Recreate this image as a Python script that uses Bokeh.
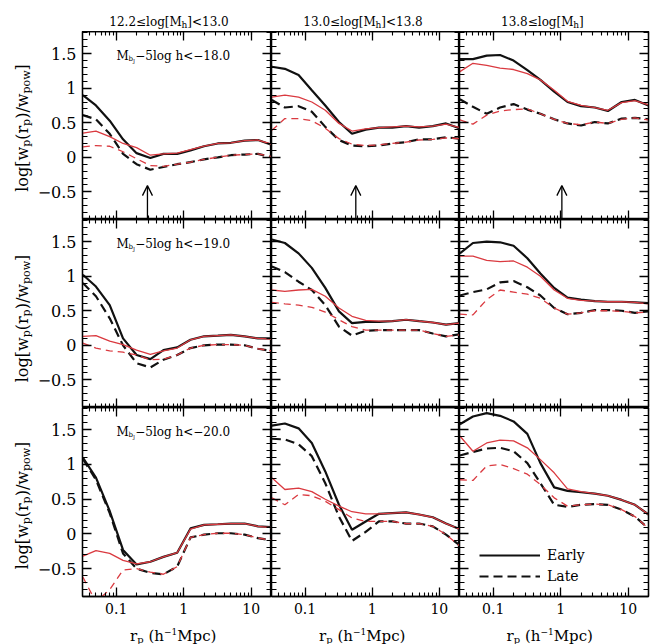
from bokeh.plotting import figure
from bokeh.layouts import column, row
from bokeh.models import (Range1d, LogAxis, LinearAxis, LogTicker, SingleIntervalTicker,
                          CustomJSTickFormatter, Label, Arrow, OpenHead, Legend, LegendItem)
from bokeh.embed import file_html
from bokeh.resources import INLINE

# projected separation bins, h^-1 Mpc
rp = [0.032, 0.05, 0.08, 0.126, 0.2, 0.32, 0.5, 0.8, 1.26, 2.0, 3.2, 5.0, 8.0, 12.6, 20.0]

# halo-mass bins (columns) and luminosity thresholds (rows)
mass_lo = ["12.2", "13.0", "13.8"]
mass_hi = ["13.0", "13.8", None]
mag_limits = ["\u221218.0", "\u221219.0", "\u221220.0"]

# scale marked by the arrows in the top row
arrow_rp = [0.29, 0.57, 1.04]
arrow_tip = -0.41

# ---- M_bJ - 5log h < -18.0 ----
m18_lo_early_black = [0.90, 0.75, 0.53, 0.26, 0.06, -0.01, 0.05, 0.05, 0.10, 0.16, 0.20, 0.21, 0.24, 0.25, 0.18]
m18_lo_early_red = [0.35, 0.38, 0.30, 0.20, 0.14, 0.03, 0.05, 0.06, 0.11, 0.16, 0.20, 0.21, 0.24, 0.25, 0.19]
m18_lo_late_black = [0.61, 0.55, 0.34, 0.05, -0.10, -0.18, -0.14, -0.10, -0.07, -0.03, 0.00, 0.03, 0.04, 0.05, 0.00]
m18_lo_late_red = [0.15, 0.17, 0.16, 0.08, -0.02, -0.12, -0.13, -0.10, -0.07, -0.03, 0.00, 0.03, 0.04, 0.05, 0.01]

m18_mid_early_black = [1.31, 1.28, 1.19, 0.97, 0.75, 0.51, 0.34, 0.40, 0.43, 0.43, 0.45, 0.43, 0.45, 0.49, 0.42]
m18_mid_early_red = [0.87, 0.90, 0.87, 0.80, 0.68, 0.49, 0.38, 0.41, 0.43, 0.44, 0.45, 0.44, 0.45, 0.48, 0.43]
m18_mid_late_black = [0.83, 0.72, 0.74, 0.66, 0.44, 0.25, 0.17, 0.16, 0.17, 0.20, 0.22, 0.26, 0.26, 0.29, 0.27]
m18_mid_late_red = [0.39, 0.56, 0.56, 0.53, 0.42, 0.27, 0.19, 0.17, 0.18, 0.20, 0.22, 0.25, 0.26, 0.28, 0.27]

m18_hi_early_black = [1.42, 1.42, 1.47, 1.48, 1.40, 1.26, 1.12, 0.95, 0.80, 0.74, 0.72, 0.67, 0.80, 0.83, 0.75]
m18_hi_early_red = [1.24, 1.36, 1.33, 1.29, 1.27, 1.21, 1.12, 0.97, 0.81, 0.75, 0.72, 0.68, 0.79, 0.82, 0.76]
m18_hi_late_black = [0.84, 0.73, 0.63, 0.72, 0.77, 0.69, 0.63, 0.55, 0.49, 0.46, 0.51, 0.49, 0.56, 0.57, 0.55]
m18_hi_late_red = [0.54, 0.48, 0.61, 0.67, 0.69, 0.70, 0.63, 0.55, 0.49, 0.47, 0.51, 0.49, 0.55, 0.57, 0.54]

# ---- M_bJ - 5log h < -19.0 ----
m19_lo_early_black = [1.02, 0.85, 0.58, 0.10, -0.14, -0.20, -0.07, -0.03, 0.08, 0.13, 0.14, 0.15, 0.13, 0.10, 0.10]
m19_lo_early_red = [0.13, 0.14, 0.06, 0.01, -0.07, -0.13, -0.08, -0.04, 0.08, 0.13, 0.14, 0.15, 0.13, 0.10, 0.09]
m19_lo_late_black = [0.90, 0.71, 0.39, 0.00, -0.26, -0.32, -0.21, -0.14, -0.04, 0.00, 0.01, 0.01, 0.00, -0.05, -0.08]
m19_lo_late_red = [0.03, -0.04, -0.08, -0.10, -0.14, -0.21, -0.20, -0.14, -0.04, 0.00, 0.01, 0.01, 0.00, -0.05, -0.08]

m19_mid_early_black = [1.53, 1.48, 1.33, 1.12, 0.83, 0.49, 0.32, 0.34, 0.34, 0.35, 0.37, 0.35, 0.33, 0.30, 0.32]
m19_mid_early_red = [0.80, 0.78, 0.80, 0.81, 0.71, 0.54, 0.42, 0.36, 0.35, 0.35, 0.37, 0.35, 0.33, 0.30, 0.32]
m19_mid_late_black = [1.14, 1.06, 0.92, 0.80, 0.58, 0.27, 0.14, 0.21, 0.22, 0.22, 0.22, 0.22, 0.17, 0.13, 0.16]
m19_mid_late_red = [0.62, 0.60, 0.58, 0.55, 0.48, 0.37, 0.27, 0.22, 0.22, 0.22, 0.22, 0.22, 0.17, 0.13, 0.15]

m19_hi_early_black = [1.33, 1.48, 1.50, 1.49, 1.44, 1.26, 1.04, 0.83, 0.69, 0.66, 0.64, 0.63, 0.63, 0.62, 0.61]
m19_hi_early_red = [1.29, 1.29, 1.23, 1.21, 1.22, 1.13, 1.00, 0.80, 0.68, 0.65, 0.64, 0.63, 0.63, 0.62, 0.60]
m19_hi_late_black = [0.72, 0.77, 0.81, 0.91, 0.93, 0.84, 0.72, 0.54, 0.45, 0.47, 0.51, 0.51, 0.50, 0.47, 0.49]
m19_hi_late_red = [0.45, 0.44, 0.66, 0.80, 0.77, 0.74, 0.68, 0.54, 0.45, 0.47, 0.50, 0.50, 0.49, 0.47, 0.48]

# ---- M_bJ - 5log h < -20.0 ----
m20_lo_early_black = [1.10, 0.81, 0.33, -0.23, -0.44, -0.40, -0.33, -0.27, 0.08, 0.13, 0.14, 0.15, 0.15, 0.11, 0.10]
m20_lo_early_red = [-0.32, -0.24, -0.28, -0.38, -0.43, -0.40, -0.33, -0.27, 0.07, 0.13, 0.14, 0.15, 0.15, 0.11, 0.09]
m20_lo_late_black = [1.08, 0.78, 0.30, -0.28, -0.50, -0.56, -0.58, -0.47, -0.05, -0.01, 0.01, 0.01, -0.01, -0.06, -0.09]
m20_lo_late_red = [-0.62, -0.98, -0.80, -0.52, -0.50, -0.55, -0.58, -0.47, -0.05, -0.01, 0.01, 0.01, -0.01, -0.06, -0.09]

m20_mid_early_black = [1.56, 1.59, 1.52, 1.31, 0.90, 0.42, 0.06, 0.18, 0.29, 0.30, 0.31, 0.28, 0.24, 0.15, 0.07]
m20_mid_early_red = [0.81, 0.64, 0.66, 0.61, 0.50, 0.40, 0.32, 0.29, 0.29, 0.30, 0.31, 0.28, 0.24, 0.15, 0.07]
m20_mid_late_black = [1.37, 1.36, 1.29, 1.12, 0.73, 0.25, -0.10, 0.03, 0.18, 0.18, 0.15, 0.15, 0.11, -0.01, -0.16]
m20_mid_late_red = [0.52, 0.42, 0.57, 0.55, 0.47, 0.35, 0.23, 0.18, 0.18, 0.18, 0.15, 0.15, 0.11, -0.01, -0.17]

m20_hi_early_black = [1.58, 1.69, 1.74, 1.70, 1.62, 1.44, 1.02, 0.67, 0.62, 0.60, 0.58, 0.55, 0.49, 0.42, 0.28]
m20_hi_early_red = [1.41, 1.19, 1.31, 1.35, 1.34, 1.24, 1.07, 0.88, 0.65, 0.61, 0.58, 0.55, 0.49, 0.42, 0.28]
m20_hi_late_black = [1.13, 1.18, 1.23, 1.24, 1.19, 1.02, 0.73, 0.42, 0.39, 0.42, 0.43, 0.42, 0.35, 0.25, 0.08]
m20_hi_late_red = [0.78, 0.77, 0.98, 1.00, 0.94, 0.86, 0.71, 0.52, 0.40, 0.42, 0.43, 0.42, 0.35, 0.25, 0.08]

panels = [
    [(m18_lo_early_black, m18_lo_early_red, m18_lo_late_black, m18_lo_late_red),
     (m18_mid_early_black, m18_mid_early_red, m18_mid_late_black, m18_mid_late_red),
     (m18_hi_early_black, m18_hi_early_red, m18_hi_late_black, m18_hi_late_red)],
    [(m19_lo_early_black, m19_lo_early_red, m19_lo_late_black, m19_lo_late_red),
     (m19_mid_early_black, m19_mid_early_red, m19_mid_late_black, m19_mid_late_red),
     (m19_hi_early_black, m19_hi_early_red, m19_hi_late_black, m19_hi_late_red)],
    [(m20_lo_early_black, m20_lo_early_red, m20_lo_late_black, m20_lo_late_red),
     (m20_mid_early_black, m20_mid_early_red, m20_mid_late_black, m20_mid_late_red),
     (m20_hi_early_black, m20_hi_early_red, m20_hi_late_black, m20_hi_late_red)],
]

# ---- styling / geometry ----
FONT = "DejaVu Serif"
BLACK = "#111111"
RED = "#da3a40"
X0, X1 = 0.0316, 20.0
Y0, Y1 = -0.9, 1.82
FRAME_W = [189, 188, 189]
FRAME_H = [188, 188, 189]
TOTAL_W = 658
LEFT_STRIP = 34          # rotated y-axis titles
LEFT_BORDER = 47         # tick labels of the left column
RIGHT_BORDER = 11
TOP_STRIP = 31           # column headings
BOTTOM_BORDER = 24       # tick labels of the bottom row
BOTTOM_STRIP = 24        # x-axis titles
GRID_H = sum(FRAME_H)
COL_LEFT = [LEFT_STRIP + LEFT_BORDER, LEFT_STRIP + LEFT_BORDER + FRAME_W[0],
            LEFT_STRIP + LEFT_BORDER + FRAME_W[0] + FRAME_W[1]]

# approximate advance widths (em) for composing sub/superscripts
ADV = {" ": 0.318, ".": 0.318, "\u2212": 0.838, "-": 0.361, "<": 0.838, "\u2264": 0.838,
       "[": 0.390, "]": 0.390, "(": 0.390, ")": 0.390, "/": 0.337,
       "l": 0.320, "o": 0.602, "g": 0.644, "w": 0.856, "p": 0.640, "r": 0.478,
       "M": 0.995, "h": 0.644, "b": 0.640, "J": 0.472, "c": 0.560}
for d in "0123456789":
    ADV[d] = 0.636


def text_width(s, size):
    return sum(ADV.get(ch, 0.6) for ch in s) * size


def rich_text(p, x, y, parts, angle=0.0):
    """Draw a run of text pieces (text, size, baseline shift) starting at x, y (frame pixels)."""
    pos = 0.0
    for txt, size, shift in parts:
        lead = len(txt) - len(txt.lstrip(" "))
        pos += text_width(" " * lead, size)
        txt = txt.lstrip(" ")
        if angle == 0.0:
            px, py = x + pos, y + shift
        else:
            px, py = x - shift, y + pos
        p.add_layout(Label(x=px, y=py, x_units="screen", y_units="screen", text=txt,
                           angle=angle, text_font=FONT, text_font_size=f"{size}px",
                           text_align="left", text_baseline="alphabetic", text_color="black"))
        pos += text_width(txt, size)
    return pos


def run_width(parts):
    return sum(text_width(t, s) for t, s, _ in parts)


def text_strip(w, h):
    s = figure(width=w, height=h, x_range=Range1d(0, w), y_range=Range1d(0, h),
               min_border_left=0, min_border_right=0, min_border_top=0, min_border_bottom=0,
               x_axis_location=None, y_axis_location=None, title=None,
               toolbar_location=None, output_backend="svg")
    for g in s.grid:
        g.visible = False
    s.outline_line_color = None
    s.background_fill_color = "white"
    s.border_fill_color = "white"
    return s


x_fmt = CustomJSTickFormatter(code="return String(Math.round(tick * 1000) / 1000);")
y_fmt = CustomJSTickFormatter(code="""
const v = Math.round(tick * 100) / 100;
const s = String(Math.abs(v));
return v < 0 ? "\\u2212" + s : s;
""")


def style_axis(ax, show_labels, minor_len, size="16px", standoff=6):
    ax.axis_line_color = "black"
    ax.axis_line_width = 1.3
    ax.major_tick_line_color = "black"
    ax.minor_tick_line_color = "black"
    ax.major_tick_line_width = 1.3
    ax.minor_tick_line_width = 1.1
    ax.major_tick_in = 9
    ax.major_tick_out = 0
    ax.minor_tick_in = minor_len
    ax.minor_tick_out = 0
    if show_labels:
        ax.major_label_text_font = FONT
        ax.major_label_text_font_size = size
        ax.major_label_text_color = "black"
        ax.major_label_standoff = standoff
    else:
        ax.major_label_text_color = None
        ax.major_label_text_alpha = 0
        ax.major_label_text_font_size = "0px"
        ax.major_label_standoff = 0


TAG_X = 34
TAG_DROP = 24

grid_rows = []
for r in range(3):
    figs = []
    for c in range(3):
        p = figure(x_axis_type="log", x_range=Range1d(X0, X1), y_range=Range1d(Y0, Y1),
                   frame_width=FRAME_W[c], frame_height=FRAME_H[r],
                   min_border_left=LEFT_BORDER if c == 0 else 0,
                   min_border_right=RIGHT_BORDER if c == 2 else 0,
                   min_border_top=0,
                   min_border_bottom=BOTTOM_BORDER if r == 2 else 0,
                   x_axis_location=None, y_axis_location=None, title=None,
                   toolbar_location=None, output_backend="svg")
        for g in p.grid:
            g.visible = False
        p.outline_line_color = "black"
        p.outline_line_width = 1.3
        p.background_fill_color = "white"
        p.border_fill_color = "white"

        for side in ("below", "above"):
            ax = LogAxis(ticker=LogTicker(num_minor_ticks=10), formatter=x_fmt)
            style_axis(ax, side == "below" and r == 2, 4, size="14px", standoff=6)
            p.add_layout(ax, side)
        for side in ("left", "right"):
            ax = LinearAxis(ticker=SingleIntervalTicker(interval=0.5, num_minor_ticks=5),
                            formatter=y_fmt)
            style_axis(ax, side == "left" and c == 0, 5)
            p.add_layout(ax, side)

        early_black, early_red, late_black, late_red = panels[r][c]
        r_eb = p.line(rp, early_black, line_color=BLACK, line_width=2.2)
        r_lb = p.line(rp, late_black, line_color=BLACK, line_width=2.2, line_dash="9 5")
        p.line(rp, early_red, line_color=RED, line_width=1.3)
        p.line(rp, late_red, line_color=RED, line_width=1.3, line_dash="7 5")

        if r == 0:
            p.add_layout(Arrow(end=OpenHead(size=10, line_color="black", line_width=1.3),
                               x_start=arrow_rp[c], y_start=Y0, x_end=arrow_rp[c], y_end=arrow_tip,
                               line_color="black", line_width=1.3))

        if c == 0:
            rich_text(p, TAG_X, FRAME_H[r] - TAG_DROP,
                      [("M", 12, 0), ("b", 7, -3), ("J", 5, -5),
                       (f"\u22125log h<{mag_limits[r]}", 12, 0)])

        if r == 2 and c == 2:
            legend = Legend(items=[LegendItem(label="Early", renderers=[r_eb]),
                                   LegendItem(label="Late", renderers=[r_lb])],
                            location=(20, 10), padding=0, margin=0, spacing=1,
                            glyph_width=61, glyph_height=20, label_standoff=7,
                            border_line_color=None, background_fill_alpha=0,
                            label_text_font=FONT, label_text_font_size="14px",
                            label_text_color="black")
            p.add_layout(legend)

        figs.append(p)
    grid_rows.append(row(*figs))

# column headings
top = text_strip(TOTAL_W, TOP_STRIP)
title_h_anchor = [100, 105, 114.7]
for c in range(3):
    head = f"{mass_lo[c]}\u2264log[M"
    tail = f"]<{mass_hi[c]}" if mass_hi[c] else "]"
    a = COL_LEFT[c] + title_h_anchor[c]
    rich_text(top, a - text_width(head, 12), 10, [(head, 12, 0), ("h", 9, -3), (tail, 12, 0)])

# rotated y-axis titles, one per row (centres given in page pixels from the top)
left_h = GRID_H + BOTTOM_BORDER
left = text_strip(LEFT_STRIP, left_h)
ylabel_center_page = [127.5, 318, 505]
ylab = [("log[w", 16, 0), ("p", 11, -4), ("(r", 16, 0), ("p", 11, -4),
        (")/w", 16, 0), ("pow", 11, -4), ("]", 16, 0)]
for r in range(3):
    yc = TOP_STRIP + left_h - ylabel_center_page[r]
    rich_text(left, 22, yc - run_width(ylab) / 2, ylab, angle=1.5707963)

# x-axis titles under each column
bottom = text_strip(TOTAL_W, BOTTOM_STRIP)
xlab = [("r", 15, 0), ("p", 10, -3.5), (" (h", 15, 0), ("\u22121", 9, 4.5), ("Mpc)", 15, 0)]
xlabel_center = [172.5, 361.5, 549]
for c in range(3):
    rich_text(bottom, xlabel_center[c] - run_width(xlab) / 2, 9, xlab)

layout = column(top, row(left, column(*grid_rows)), bottom)
open("out.html", "w").write(file_html(layout, INLINE))
